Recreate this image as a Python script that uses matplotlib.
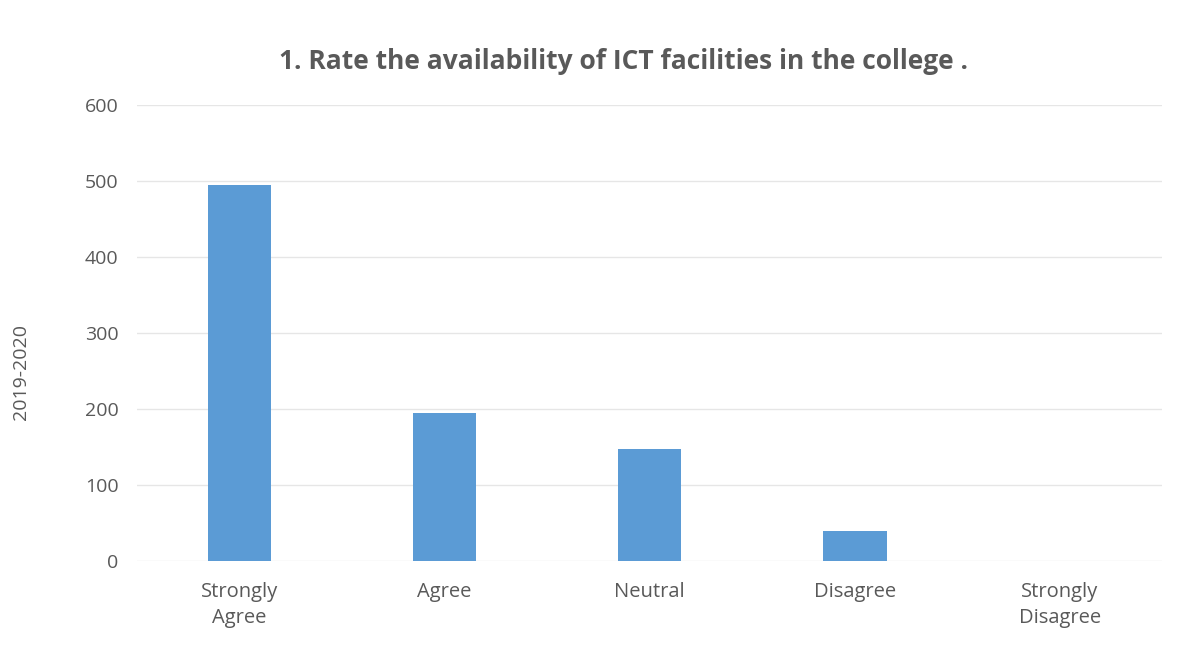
import matplotlib.pyplot as plt
import numpy as np

# survey responses, 2019-2020
categories = ["Strongly\nAgree", "Agree", "Neutral", "Disagree", "Strongly\nDisagree"]
responses = [495, 195, 147, 40, 0]
yticks = [0, 100, 200, 300, 400, 500, 600]

plt.rcParams['font.family'] = ['Open Sans', 'DejaVu Sans']

fig = plt.figure(figsize=(11.79, 6.47), dpi=100)
ax = fig.add_axes([0.116, 0.133, 0.870, 0.705])

x = np.arange(len(categories))
ax.bar(x, responses, width=0.31, color="#5B9BD5", zorder=3)

ax.set_xlim(-0.5, len(categories) - 0.5)
ax.set_ylim(0, 600)
ax.set_yticks(yticks)
ax.set_xticks(x)
ax.set_xticklabels(categories, fontsize=14.5, color="#595959", linespacing=1.4)
ax.tick_params(axis="y", labelsize=14, labelcolor="#595959", length=0, pad=13)
ax.tick_params(axis="x", length=0, pad=15)

ax.grid(axis="y", color="#E6E6E6", linewidth=1, zorder=0)
for s in ax.spines.values():
    s.set_visible(False)

ax.set_title("1. Rate the availability of ICT facilities in the college .",
             fontsize=19, fontweight="bold", color="#595959", pad=26, x=0.475)
fig.text(0.018, 0.425, "2019-2020", rotation=90, fontsize=14, color="#595959",
         ha="center", va="center")

fig.savefig("out.png", dpi=100)
